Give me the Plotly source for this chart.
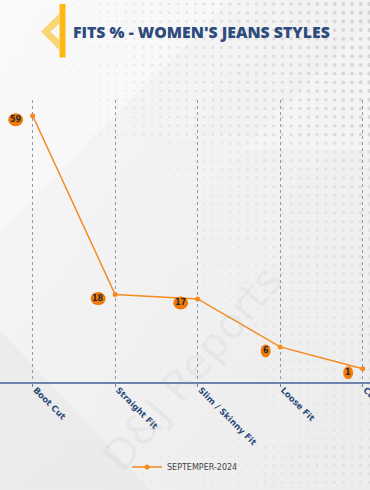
import base64
import plotly.graph_objects as go

# ---- data ----
categories = ["Boot Cut", "Straight Fit", "Slim / Skinny Fit", "Loose Fit", "Curvy Fit"]
values = [59, 18, 17, 6, 1]
series_name = "SEPTEMPER-2024"
title_text = "FITS % - WOMEN'S JEANS STYLES"
watermark = "D&J Reports"

W, H = 370, 490
M_L, M_R, M_T, M_B = 0, 0, 100, 108
PLOT_H = H - M_T - M_B

LINE = "#F58A1F"
BADGE = "#F07A0A"
NAVY = "#2D4B7C"
GRID = "#8A9AB9"


def pxx(x):
    return x / W


def pxy(y):
    return (H - M_B - y) / PLOT_H


# ---- decorative background (svg) ----
parts = [f'<svg xmlns="http://www.w3.org/2000/svg" width="{W}" height="{H}">',
         '<defs><linearGradient id="g" x1="0" y1="0" x2="1" y2="1">'
         '<stop offset="0" stop-color="#F7F7F7"/><stop offset="1" stop-color="#ECECEC"/>'
         '</linearGradient></defs>',
         f'<rect width="{W}" height="{H}" fill="url(#g)"/>',
         '<polygon points="0,0 230,0 0,230" fill="#FFFFFF" opacity="0.35"/>',
         '<polygon points="0,330 150,490 0,490" fill="#E6E6E6" opacity="0.5"/>',
         '<polygon points="240,150 370,20 370,150" fill="#FFFFFF" opacity="0.25"/>']
step = 8.7
gy = 4.0
while gy < H:
    gx = 4.0
    while gx < W:
        fx = gx / W
        fy = 1 - gy / H
        strength = max(0.0, 0.2 + 0.8 * fx * (0.4 + 0.6 * fy) - (0.25 if 140 < gy < 440 else 0))
        if strength > 0.05:
            r = 0.6 + 1.5 * fx * (0.5 + 0.5 * fy)
            parts.append(f'<circle cx="{gx:.1f}" cy="{gy:.1f}" r="{r:.2f}" fill="#D4D4D4" opacity="{min(1, strength):.2f}"/>')
        gx += step
    gy += step
parts.append('</svg>')
svg = "".join(parts)
bg_src = "data:image/svg+xml;base64," + base64.b64encode(svg.encode()).decode()

fig = go.Figure()
fig.add_trace(go.Scatter(
    x=categories, y=values, mode="lines+markers", name=series_name,
    line=dict(color=LINE, width=1.5),
    marker=dict(color=LINE, size=5),
    hoverinfo="x+y",
))

shapes = []
annotations = []
for c, v in zip(categories, values):
    t = str(v)
    w = 5 * len(t) + 5
    shapes.append(dict(
        type="circle", xref="x", yref="y", xsizemode="pixel", ysizemode="pixel",
        xanchor=c, yanchor=v, x0=-9.5 - w, x1=-9.5, y0=-10.5, y1=2.5,
        fillcolor=BADGE, line=dict(width=0), layer="above",
    ))
    annotations.append(dict(
        x=c, y=v, xref="x", yref="y", text=f"<b>{t}</b>", showarrow=False,
        xshift=-9.5 - w / 2, yshift=-4, xanchor="center", yanchor="middle",
        font=dict(family="DejaVu Sans", size=8, color="#2A2A2A"),
    ))

# logo: chevron + bar
chev = [(59.3, 13.5), (41, 31.7), (59.3, 50), (59.3, 40), (50.5, 31.7), (59.3, 23.5)]
path = "M " + " L ".join(f"{pxx(a):.4f},{pxy(b):.4f}" for a, b in chev) + " Z"
shapes.append(dict(type="path", xref="paper", yref="paper", path=path,
                   fillcolor="#F8D264", line=dict(width=0), opacity=0.9))
shapes.append(dict(type="rect", xref="paper", yref="paper",
                   x0=pxx(59.5), x1=pxx(65.5), y0=pxy(57.5), y1=pxy(4),
                   fillcolor="#FDB813", line=dict(width=0)))

annotations.append(dict(
    x=pxx(192), y=pxy(368), xref="paper", yref="paper", text=watermark,
    showarrow=False, textangle=-50, xanchor="center", yanchor="middle",
    font=dict(family="DejaVu Sans", size=42, color="rgba(150,150,150,0.11)"),
))

fig.update_layout(
    width=W, height=H, autosize=False,
    margin=dict(l=M_L, r=M_R, t=M_T, b=M_B, autoexpand=False),
    paper_bgcolor="#EFEFEF",
    plot_bgcolor="rgba(0,0,0,0)",
    title=dict(text=title_text, x=73 / W, xanchor="left", y=1 - 32 / H, yanchor="middle",
               font=dict(family="Open Sans", size=15.8, color=NAVY, weight=800)),
    xaxis=dict(
        type="category", range=[-0.396, 4.089], showgrid=True, gridcolor=GRID,
        griddash="dot", gridwidth=1, showline=True, linecolor="#6B83AD", linewidth=1.5,
        ticks="outside", ticklen=3, tickcolor="#6B83AD", tickangle=45, automargin=False,
        ticklabelstandoff=-5, ticklabelshift=3,
        tickfont=dict(family="DejaVu Sans", size=8.5, color=NAVY, weight="bold"),
        zeroline=False, fixedrange=True,
    ),
    yaxis=dict(visible=False, range=[-2.04, 62.6], fixedrange=True, automargin=False),
    showlegend=True,
    legend=dict(orientation="h", x=0.5, xanchor="center", y=pxy(467), yanchor="middle",
                font=dict(family="DejaVu Sans", size=8, color="#444444"),
                bgcolor="rgba(0,0,0,0)"),
    shapes=shapes,
    annotations=annotations,
    images=[dict(source=bg_src, xref="paper", yref="paper", x=0, y=pxy(0),
                 sizex=1, sizey=H / PLOT_H, sizing="stretch", layer="below",
                 xanchor="left", yanchor="top")],
)

post = ("document.body.style.margin='0';document.body.style.padding='0';"
        "document.body.style.overflow='hidden';"
        "document.documentElement.style.overflow='hidden';")
fig.write_html("out.html", post_script=post, config={"responsive": False, "displayModeBar": False})
